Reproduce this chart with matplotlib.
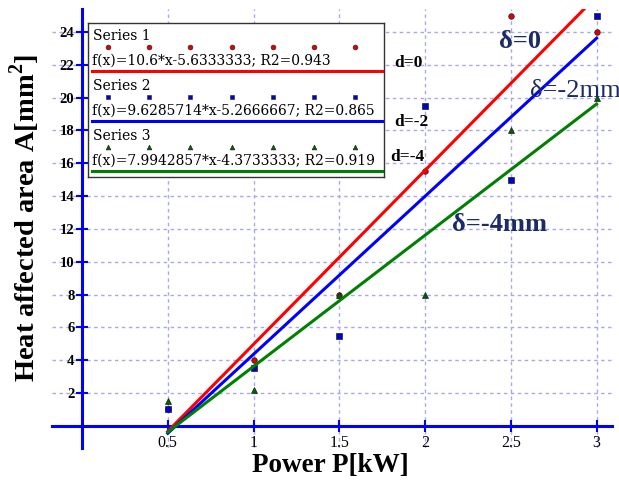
import matplotlib
matplotlib.use('Agg')
import matplotlib.pyplot as plt
import numpy as np

# ---------------- data ----------------
power = [0.5, 1.0, 1.5, 2.0, 2.5, 3.0]
area_s1 = [1.0, 4.0, 8.0, 15.5, 25.0, 24.0]
area_s2 = [1.0, 3.5, 5.5, 19.5, 15.0, 25.0]
area_s3 = [1.5, 2.2, 8.0, 8.0, 18.0, 20.0]
series_names = ['Series 1', 'Series 2', 'Series 3']
fit_slopes = [10.6, 9.6285714, 7.9942857]
fit_intercepts = [-5.6333333, -5.2666667, -4.3733333]
fit_labels = ['f(x)=10.6*x-5.6333333; R2=0.943',
              'f(x)=9.6285714*x-5.2666667; R2=0.865',
              'f(x)=7.9942857*x-4.3733333; R2=0.919']
d_labels = ['d=0', 'd=-2', 'd=-4']
d_label_pos = [(1.82, 22.1), (1.82, 18.5), (1.80, 16.4)]
delta_labels = ['δ=0', 'δ=-2mm', 'δ=-4mm']
delta_label_pos = [(2.43, 23.4), (2.61, 20.4), (2.16, 12.26)]
delta_weights = ['bold', 'normal', 'bold']
xticks = [0.5, 1, 1.5, 2, 2.5, 3]
xtick_labels = ['0.5', '1', '1.5', '2', '2.5', '3']
yticks = [2, 4, 6, 8, 10, 12, 14, 16, 18, 20, 22, 24]
xlabel = 'Power P[kW]'
ylabel = 'Heat affected area A[mm$^{\\mathbf{2}}$]'

colors = ['#ff0000', '#0000ff', '#008000']
mcolors = ['#e00000', '#0000d0', '#006000']
markers = ['o', 's', '^']
msizes = [4, 5, 4.5]
SERIF = ['Liberation Serif', 'DejaVu Serif']

plt.rcParams['font.family'] = SERIF
plt.rcParams['mathtext.fontset'] = 'custom'
plt.rcParams['mathtext.rm'] = 'Liberation Serif'
plt.rcParams['mathtext.bf'] = 'Liberation Serif:bold'

W, H = 619, 482
fig = plt.figure(figsize=(W / 100, H / 100), dpi=100)
ax = fig.add_axes([52 / W, 34 / H, 560 / W, 439 / H])

ax.set_xlim(-0.175, 3.09)
ax.set_ylim(-1.35, 25.4)

# grid
for xt in xticks:
    ax.axvline(xt, color='#a8a8f0', lw=1, ls=(0, (2.5, 2.5)), zorder=0)
for yt in yticks:
    ax.axhline(yt, color='#a8a8f0', lw=1, ls=(0, (2.5, 2.5)), zorder=0)

# spines at zero
for s in ['top', 'right']:
    ax.spines[s].set_visible(False)
for s in ['left', 'bottom']:
    ax.spines[s].set_position('zero')
    ax.spines[s].set_color('#0000ff')
    ax.spines[s].set_linewidth(2.2)

ax.set_xticks(xticks)
ax.set_xticklabels(xtick_labels)
ax.set_yticks(yticks)
ax.set_yticklabels([str(v) for v in yticks])
ax.tick_params(axis='both', direction='inout', length=9, width=1.5, color='#0000ff')
ax.tick_params(axis='x', pad=2, labelsize=11.5)
ax.tick_params(axis='y', pad=1, labelsize=10.5)
for lab in ax.get_yticklabels():
    lab.set_fontweight('bold')

# data points
all_series = [area_s1, area_s2, area_s3]
for i, ys in enumerate(all_series):
    ax.plot(power, ys, ls='none', marker=markers[i], ms=msizes[i],
            mfc=mcolors[i], mec='#202020', mew=0.5, zorder=3, clip_on=False)

# regression lines
xfit = np.array([power[0], power[-1]])
for i in range(3):
    ax.plot(xfit, fit_slopes[i] * xfit + fit_intercepts[i], color=colors[i], lw=2.2, zorder=4)

# labels d=..
for t, (x, y) in zip(d_labels, d_label_pos):
    ax.text(x, y, t, fontsize=12.5, fontweight='bold', ha='left', va='center', zorder=5)

for t, (x, y), w in zip(delta_labels, delta_label_pos, delta_weights):
    ax.text(x, y, t, fontsize=19, fontweight=w, color='#1c2a66', ha='left', va='center',
            zorder=6, clip_on=False)

fig.text(330 / W, 1 - 465 / H, xlabel, fontsize=19.5, fontweight='bold', ha='center', va='center')
fig.text(25 / W, 1 - 218 / H, ylabel, fontsize=20.5, fontweight='bold', ha='center', va='center',
         rotation=90)

# custom legend box
lx0, ly0, lx1, ly1 = 88, 23, 384, 177
lax = fig.add_axes([lx0 / W, 1 - ly1 / H, (lx1 - lx0) / W, (ly1 - ly0) / H])
lax.set_xlim(lx0, lx1)
lax.set_ylim(ly1, ly0)
lax.set_xticks([])
lax.set_yticks([])
for s in lax.spines.values():
    s.set_color('#333333')
    s.set_linewidth(1)
lax.set_zorder(10)
pitch = 50
LEGFONT = ['DejaVu Serif']
for i in range(3):
    base = i * pitch
    lax.text(93, 36 + base, series_names[i], fontsize=10, family=LEGFONT, ha='left', va='center')
    mx = np.linspace(108, 355, 7)
    lax.plot(mx, np.full(7, 46.5 + base), ls='none', marker=markers[i], ms=3.5,
             mfc=mcolors[i], mec='#202020', mew=0.4)
    lax.text(92, 61 + base, fit_labels[i], fontsize=10, family=LEGFONT, ha='left', va='center')
    lax.plot([92, 382], [71 + base, 71 + base], color=colors[i], lw=2.2)

fig.savefig('out.png', dpi=100)
